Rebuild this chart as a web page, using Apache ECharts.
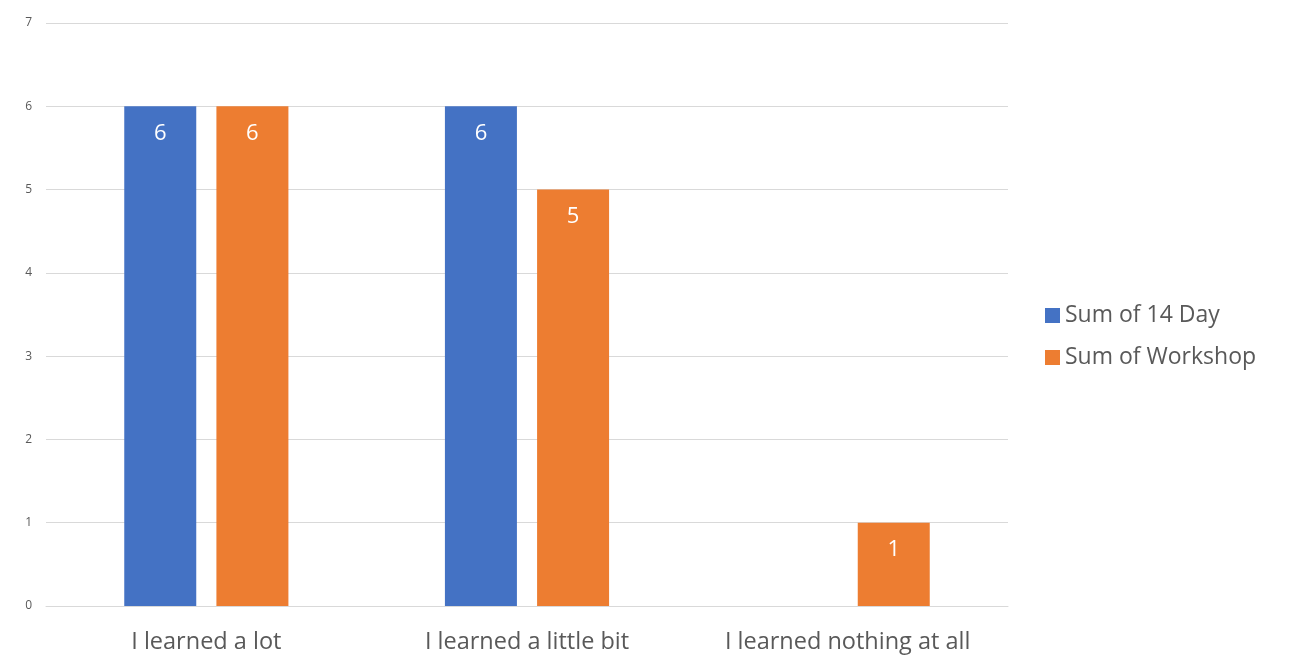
<!DOCTYPE html>
<html><head><meta charset="utf-8">
<script src="https://cdn.jsdelivr.net/npm/echarts@6/dist/echarts.min.js"></script>
<style>html,body{margin:0;padding:0;background:#fff}#c{width:1290px;height:656px}</style>
</head><body><div id="c"></div>
<script>
const categories = ['I learned a lot', 'I learned a little bit', 'I learned nothing at all'];
const sum14Day = [6, 6, null];
const sumWorkshop = [6, 5, 1];
const seriesNames = ['Sum of 14 Day', 'Sum of Workshop'];

const chart = echarts.init(document.getElementById('c'));
const label = {show: true, position: 'insideTop', distance: 16, color: '#fff', fontSize: 22, fontFamily: 'Open Sans'};
chart.setOption({
  animation: false,
  grid: {left: 46, right: 282, top: 23, bottom: 50},
  legend: {
    orient: 'vertical', left: 1040, top: 299, itemWidth: 15, itemHeight: 15, itemGap: 19, icon: 'rect',
    textStyle: {color: '#595959', fontSize: 23, lineHeight: 22, fontFamily: 'Open Sans'},
    data: seriesNames
  },
  xAxis: {
    type: 'category', data: categories,
    axisLine: {lineStyle: {color: '#d9d9d9'}}, axisTick: {show: false},
    axisLabel: {color: '#595959', fontSize: 23.5, fontFamily: 'Open Sans', margin: 24}
  },
  yAxis: {
    type: 'value', min: 0, max: 7, interval: 1,
    axisLine: {show: false}, axisTick: {show: false},
    axisLabel: {color: '#595959', fontSize: 12, fontFamily: 'Open Sans', margin: 14},
    splitLine: {lineStyle: {color: '#d9d9d9'}}
  },
  series: [
    {name: seriesNames[0], type: 'bar', data: sum14Day, barWidth: 72, barGap: '28%', itemStyle: {color: '#4472C4'}, label},
    {name: seriesNames[1], type: 'bar', data: sumWorkshop, barWidth: 72, itemStyle: {color: '#ED7D31'}, label}
  ]
});
</script></body></html>
